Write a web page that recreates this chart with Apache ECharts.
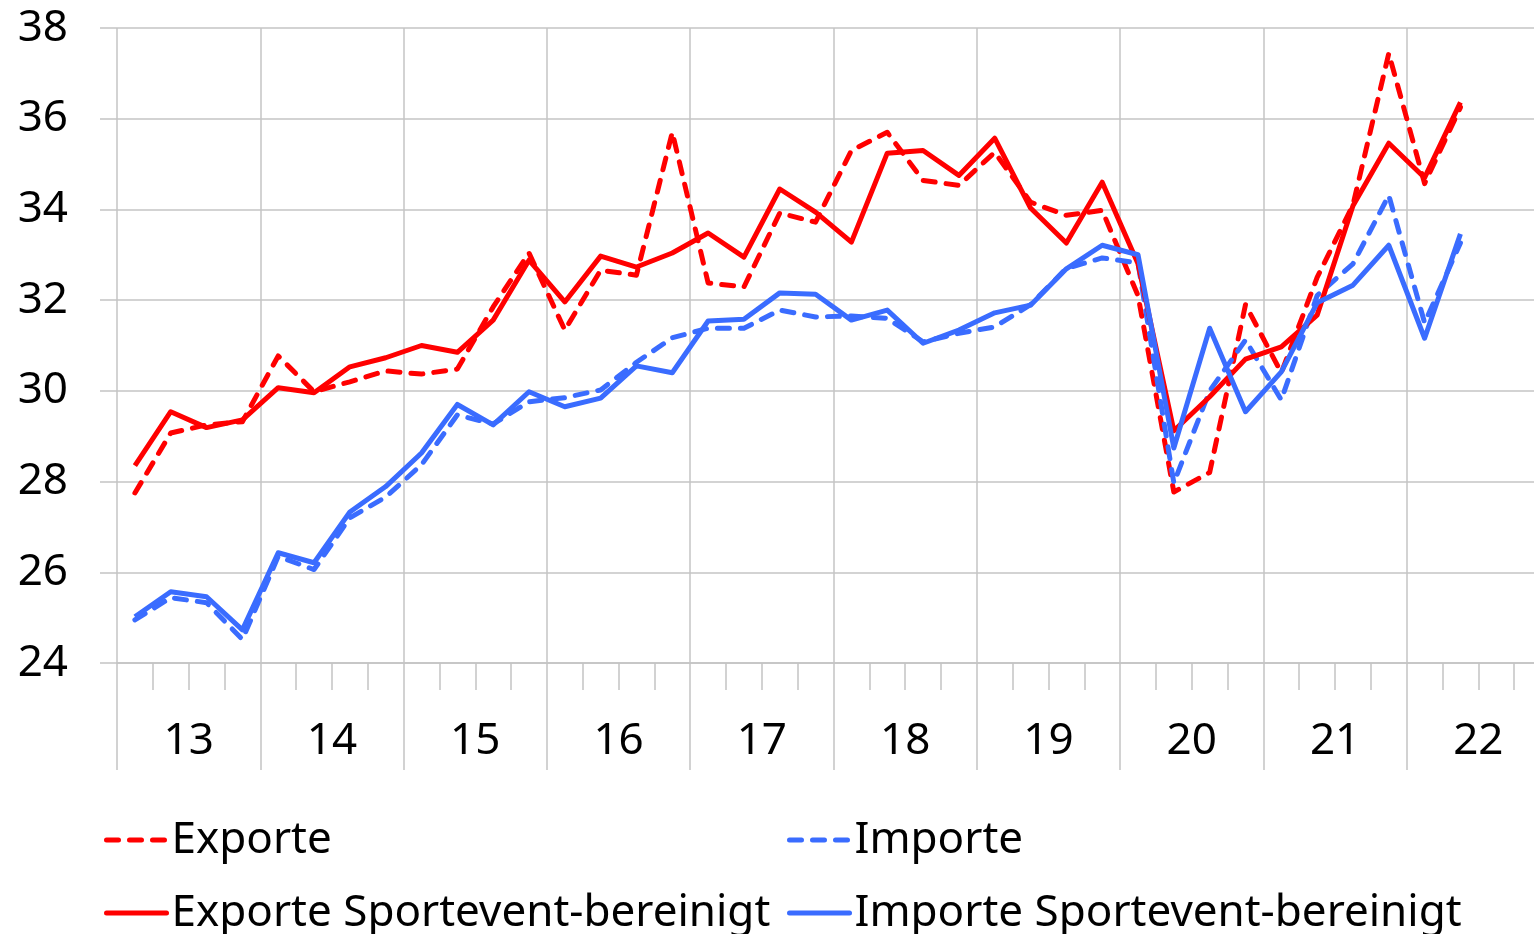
<!DOCTYPE html>
<html>
<head>
<meta charset="utf-8">
<script src="https://cdn.jsdelivr.net/npm/echarts@6/dist/echarts.min.js"></script>
<style>
  html, body { margin: 0; padding: 0; background: #fff; overflow: hidden; }
  #chart { width: 1552px; height: 934px; }
</style>
</head>
<body>
<div id="chart"></div>
<script>
// quarters 2013 Q1 .. 2022 Q4 (data through 2022 Q2)
var jahre = ['13', '14', '15', '16', '17', '18', '19', '20', '21', '22'];
var quartale = [];
jahre.forEach(function (j) {
  for (var q = 1; q <= 4; q++) quartale.push(j + 'Q' + q);
});

var exporte = [27.75, 29.07, 29.25, 29.32, 30.77, 29.98, 30.2, 30.44, 30.37, 30.48,
  31.85, 33.04, 31.34, 32.66, 32.55, 35.7, 32.38, 32.29, 33.92, 33.72,
  35.3, 35.7, 34.64, 34.53, 35.26, 34.16, 33.87, 33.98, 32.1, 27.77,
  28.2, 31.9, 30.4, 32.5, 34.1, 37.44, 34.57, 36.25];
var exporteBer = [28.35, 29.54, 29.19, 29.36, 30.07, 29.96, 30.53, 30.73, 31.0, 30.85,
  31.56, 32.88, 31.96, 32.97, 32.73, 33.04, 33.48, 32.95, 34.45, 33.94,
  33.28, 35.24, 35.3, 34.75, 35.57, 34.03, 33.26, 34.6, 32.8, 29.12,
  29.87, 30.7, 30.97, 31.67, 34.08, 35.46, 34.7, 36.36];
var importe = [24.95, 25.44, 25.33, 24.52, 26.35, 26.06, 27.2, 27.66, 28.37, 29.47,
  29.27, 29.76, 29.85, 30.02, 30.63, 31.17, 31.38, 31.38, 31.78, 31.63,
  31.65, 31.6, 31.08, 31.27, 31.41, 31.9, 32.7, 32.93, 32.82, 27.97,
  30.0, 31.12, 29.8, 32.1, 32.8, 34.31, 31.5, 33.26];
var importeBer = [25.02, 25.57, 25.46, 24.73, 26.43, 26.21, 27.33, 27.89, 28.63, 29.7,
  29.25, 29.98, 29.65, 29.84, 30.55, 30.4, 31.54, 31.58, 32.16, 32.13,
  31.56, 31.78, 31.05, 31.34, 31.72, 31.89, 32.69, 33.21, 33.0, 28.74,
  31.38, 29.54, 30.42, 31.94, 32.33, 33.21, 31.16, 33.46];

var rot = '#ff0000';
var blau = '#3a6cff';
var grau = '#c4c4c4';
var schrift = '"Noto Sans", Lato, sans-serif';

function linie(name, data, farbe, gestrichelt) {
  return {
    name: name,
    type: 'line',
    data: data,
    symbol: 'none',
    animation: false,
    lineStyle: {
      color: farbe,
      width: 5,
      type: gestrichelt ? [12, 11] : 'solid',
      cap: gestrichelt ? 'round' : 'butt',
      join: 'round'
    },
    itemStyle: { color: farbe },
    z: gestrichelt ? 3 : 4
  };
}

function legende(name, left, top, gestrichelt) {
  return {
    data: [name],
    left: left,
    top: top,
    padding: 0,
    itemWidth: 60,
    itemHeight: 20,
    itemStyle: { opacity: 0 },
    lineStyle: {
      width: 5,
      cap: 'round',
      type: gestrichelt ? [12, 11] : 'solid'
    },
    textStyle: { fontFamily: schrift, fontSize: 44, color: '#000' },
    selectedMode: false
  };
}

var chart = echarts.init(document.getElementById('chart'));
chart.setOption({
  backgroundColor: '#fff',
  animation: false,
  grid: { left: 117, top: 28, width: 1433, height: 635 },
  legend: [
    legende('Exporte', 104, 818, true),
    legende('Importe', 787, 818, true),
    legende('Exporte Sportevent-bereinigt', 104, 891, false),
    legende('Importe Sportevent-bereinigt', 787, 891, false)
  ],
  xAxis: [{
    type: 'category',
    data: quartale,
    position: 'bottom',
    boundaryGap: true,
    axisLine: { show: true, lineStyle: { color: grau, width: 1.5 } },
    axisTick: { show: true, interval: 0, length: 27, lineStyle: { color: grau, width: 1.5 } },
    axisLabel: { show: false },
    splitLine: { show: false }
  }, {
    type: 'category',
    data: jahre,
    position: 'bottom',
    boundaryGap: true,
    axisLine: { show: false },
    axisTick: { show: true, interval: 0, length: 107, lineStyle: { color: grau, width: 1.5 } },
    axisLabel: {
      interval: 0, margin: 78, verticalAlign: 'middle',
      fontFamily: schrift, fontSize: 44, color: '#000'
    },
    splitLine: { show: true, interval: 0, lineStyle: { color: grau, width: 1.5 } }
  }],
  yAxis: {
    type: 'value',
    min: 24,
    max: 38,
    interval: 2,
    axisLine: { show: false },
    axisTick: { show: true, length: 17, lineStyle: { color: grau, width: 1.5 } },
    axisLabel: { margin: 49, fontFamily: schrift, fontSize: 44, color: '#000' },
    splitLine: { show: true, lineStyle: { color: grau, width: 1.5 } }
  },
  series: [
    linie('Exporte', exporte, rot, true),
    linie('Importe', importe, blau, true),
    linie('Exporte Sportevent-bereinigt', exporteBer, rot, false),
    linie('Importe Sportevent-bereinigt', importeBer, blau, false)
  ]
});
</script>
</body>
</html>
